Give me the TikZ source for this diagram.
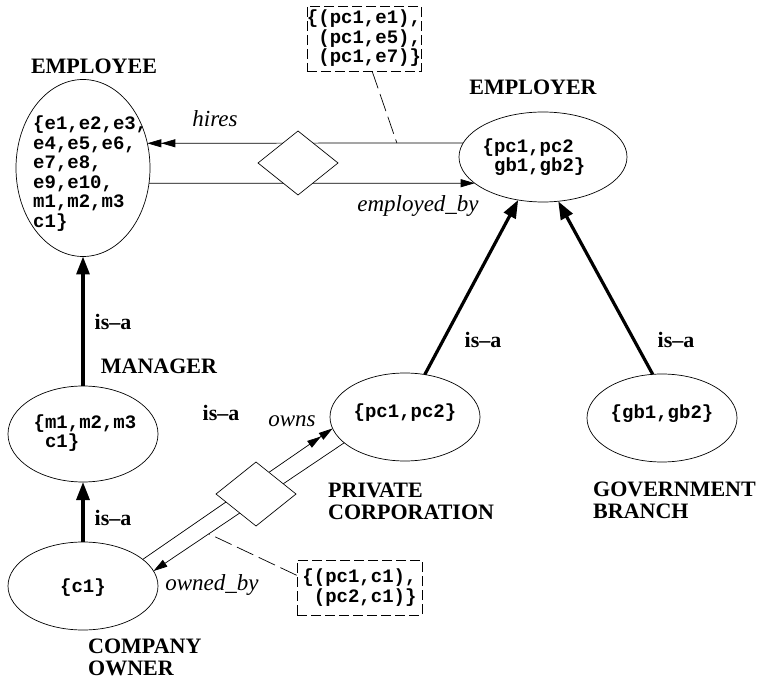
\documentclass[tikz,border=0pt]{standalone}
\usepackage{fontspec}
\setmainfont{Liberation Serif}
\setmonofont{Liberation Mono}
\usetikzlibrary{shapes.geometric,arrows.meta,calc}
\begin{document}
\begin{tikzpicture}[x=1pt,y=-1pt,
  set/.style={draw,ellipse,inner sep=0pt,outer sep=0pt,line width=0.7pt},
  rel/.style={draw,diamond,fill=white,inner sep=0pt,outer sep=0pt,minimum width=80pt,minimum height=64pt,line width=0.7pt},
  val/.style={font=\fontsize{19}{19.5}\selectfont\ttfamily\bfseries,align=left,inner sep=0pt},
  ename/.style={font=\fontsize{22}{22}\selectfont\bfseries,align=left,inner sep=0pt},
  rname/.style={font=\fontsize{23}{23}\selectfont\itshape,inner sep=0pt},
  isa/.style={line width=3.2pt,-{Triangle[length=18pt,width=13pt]}},
  thinline/.style={line width=0.7pt},
  one/.style={thinline,-{Triangle[length=14pt,width=8pt]}},
  many/.style={thinline,-{Triangle[length=14pt,width=8pt] Triangle[length=14pt,width=8pt]}},
  note/.style={draw,dash pattern=on 10pt off 4pt,line width=0.7pt,inner sep=0pt,align=left,
    font=\fontsize{19}{19.5}\selectfont\ttfamily\bfseries},
  dashline/.style={line width=0.7pt,dash pattern=on 18pt off 6pt},
  ]
\useasboundingbox (0,0) rectangle (760,684);

% entity sets
\node[set,minimum width=134pt,minimum height=177pt] (emp) at (83,168) {};
\node[set,minimum width=168pt,minimum height=90pt] (emr) at (543,157) {};
\node[set,minimum width=150pt,minimum height=96pt] (mgr) at (83,434) {};
\node[set,minimum width=150pt,minimum height=88pt] (own) at (83,586) {};
\node[set,minimum width=150pt,minimum height=88pt] (pc) at (405,417) {};
\node[set,minimum width=150pt,minimum height=88pt] (gb) at (662,418) {};

% values
\node[val,anchor=west] (empv) at (33,173.5) {\{e1,e2,e3,\\e4,e5,e6,\\e7,e8,\\e9,e10,\\m1,m2,m3\\c1\}};
\node[val] (emrv) at (534,157) {\{pc1,pc2\\\phantom{\{}gb1,gb2\}};
\node[val] (mgrv) at (85,433) {\{m1,m2,m3\\\phantom{\{}c1\}};
\node[val] (ownv) at (83,588) {\{c1\}};
\node[val] (pcv) at (405,413) {\{pc1,pc2\}};
\node[val] (gbv) at (662,414) {\{gb1,gb2\}};

% names
\node[ename] (l1) at (94,66) {EMPLOYEE};
\node[ename] (l2) at (533,87) {EMPLOYER};
\node[ename] (l3) at (159,366) {MANAGER};
\node[ename,anchor=west] (l4) at (328,501) {PRIVATE\\CORPORATION};
\node[ename,anchor=west] (l5) at (593,500) {GOVERNMENT\\BRANCH};
\node[ename,anchor=west] (l6) at (88,657) {COMPANY\\OWNER};

% is-a links
\draw[isa] (mgr.north) -- (emp.south);
\draw[isa] (own.north) -- (mgr.south);
\draw[isa] (pc.65) -- (emr.240);
\draw[isa] (gb.102) -- (emr.289);
\node[ename] (i1) at (113,322) {is--a};
\node[ename] (i2) at (113,518) {is--a};
\node[ename] (i3) at (221,413) {is--a};
\node[ename] (i4) at (483,340) {is--a};
\node[ename] (i5) at (676,340) {is--a};

% relationships
\draw[many] (emr.170) -- (emp.21);
\draw[one] (emp.347) -- (emr.201);
\draw[many] (own.24) -- (pc.189);
\draw[one] (pc.203) -- (own.12);
\node[rel] (r1) at (298,163) {};
\node[rel] (r2) at (256,494) {};
\node[rname] (n1) at (215,119) {hires};
\node[rname] (n2) at (418,206) {employed\_by};
\node[rname] (n3) at (292,421) {owns};
\node[rname] (n4) at (212,585) {owned\_by};

% instance notes
\node[note,minimum width=112pt,minimum height=65pt] (tb) at (364,38.5) {\{(pc1,e1),\\\phantom{\{}(pc1,e5),\\\phantom{\{}(pc1,e7)\}};
\node[note,minimum width=125pt,minimum height=55pt] (bb) at (359.5,587.5) {\{(pc1,c1),\\\phantom{\{}(pc2,c1)\}};
\draw[dashline] (tb.284) -- ($(emr.170)!0.21!(emp.21)$);
\draw[dashline] (bb.169) -- ($(pc.203)!0.71!(own.12)$);
\end{tikzpicture}
\end{document}
